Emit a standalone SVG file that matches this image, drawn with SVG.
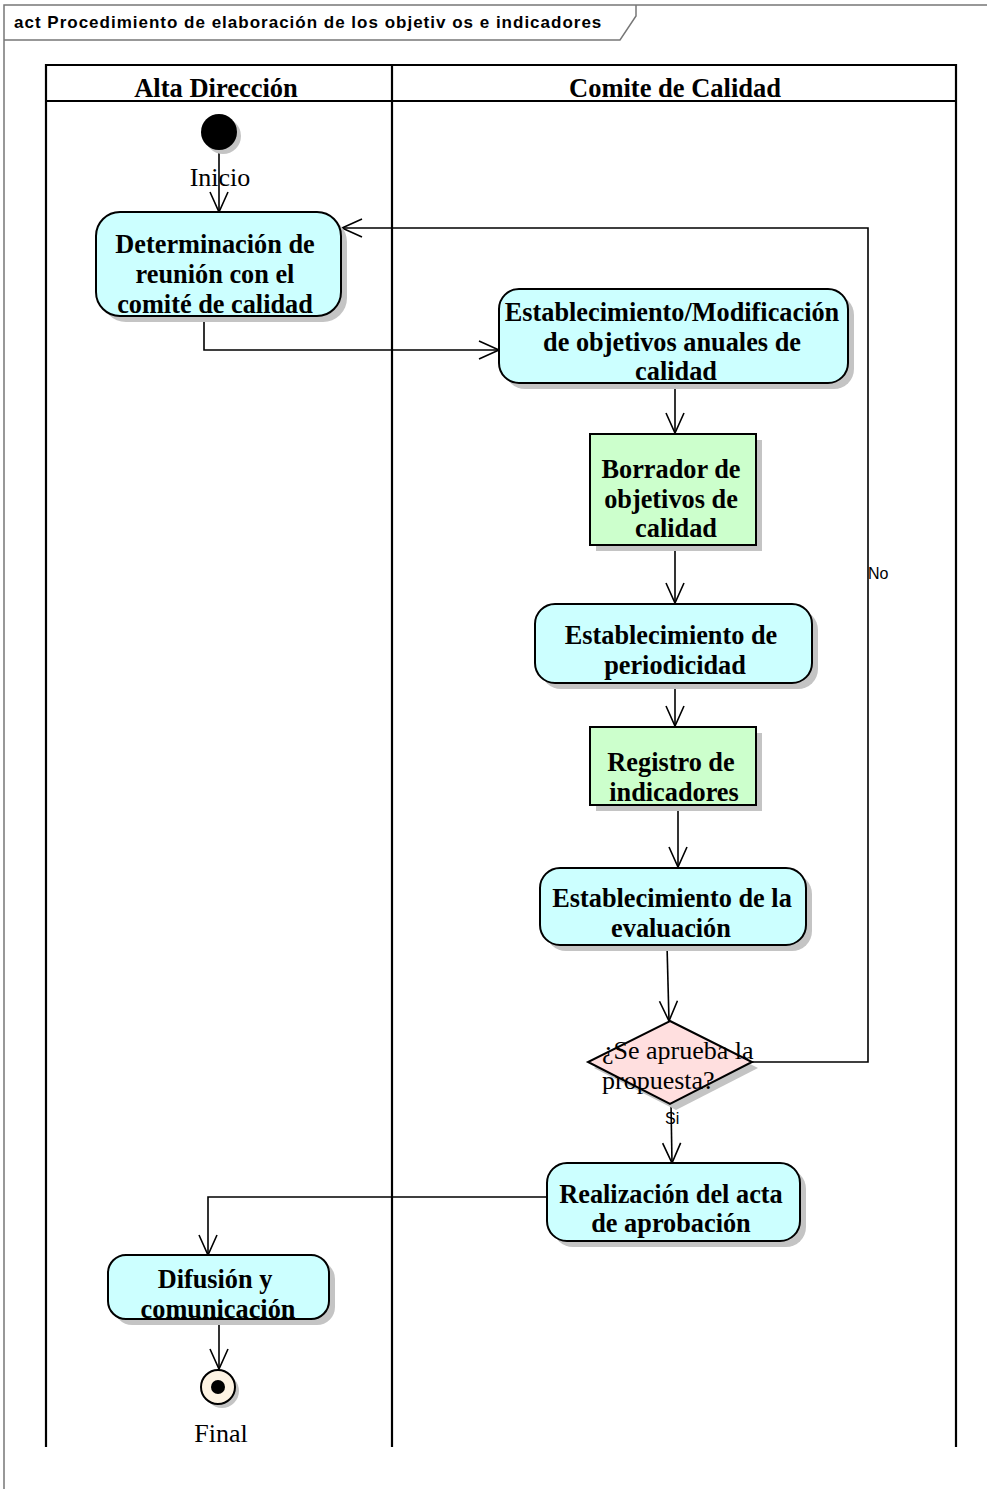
<svg xmlns="http://www.w3.org/2000/svg" width="987" height="1489" viewBox="0 0 987 1489">
  <defs>
    <marker id="open" viewBox="0 0 24 20" refX="22" refY="10" markerWidth="24" markerHeight="20" markerUnits="userSpaceOnUse" orient="auto">
      <path d="M2,1 L22,10 L2,19" fill="none" stroke="#000" stroke-width="1.6"/>
    </marker>
  </defs>
  <style>
    .frame { fill: none; stroke: #777; stroke-width: 1.5; }
    .title { font-family: "Liberation Sans", Arial, sans-serif; font-weight: bold; font-size: 17px; letter-spacing: 1px; fill: #000; }
    .lane { fill: none; stroke: #000; stroke-width: 2.2; }
    .lanehead { font-family: "Liberation Serif", "Times New Roman", serif; font-weight: bold; font-size: 26.5px; text-anchor: middle; fill: #000; }
    .shadow { fill: #c4c4c4; stroke: none; }
    .act { fill: #ccffff; stroke: #000; stroke-width: 2; }
    .obj { fill: #ccffcc; stroke: #000; stroke-width: 2; }
    .dec { fill: #ffdfdf; stroke: #000; stroke-width: 2; }
    .lbl { font-family: "Liberation Serif", "Times New Roman", serif; font-weight: bold; font-size: 26.3px; text-anchor: middle; fill: #000; }
    .plain { font-family: "Liberation Serif", "Times New Roman", serif; font-size: 26px; fill: #000; }
    .guard { font-family: "Liberation Sans", Arial, sans-serif; font-size: 16px; fill: #000; }
    .edge { fill: none; stroke: #000; stroke-width: 1.6; marker-end: url(#open); }
  </style>

  <rect width="987" height="1489" fill="#fff"/>

  <!-- diagram frame with name tab -->
  <g id="frame">
    <path class="frame" d="M4,1489 V5 H990"/>
    <path class="frame" d="M4,40 H620 L636,16 V5"/>
    <text class="title" x="14" y="28">act Procedimiento de elaboración de los objetiv os e indicadores</text>
  </g>

  <!-- swimlanes -->
  <g id="lanes">
    <path class="lane" d="M46,1447 V65 H956 V1447"/>
    <path class="lane" d="M46,101 H956"/>
    <path class="lane" d="M392,65 V1447"/>
    <text class="lanehead" x="216" y="97">Alta Dirección</text>
    <text class="lanehead" x="675" y="97">Comite de Calidad</text>
  </g>

  <!-- connectors -->
  <g id="connectors">
    <path class="edge" d="M219,150 V212"/>
    <path class="edge" d="M204,316 V350 H499"/>
    <path class="edge" d="M675,383 V433"/>
    <path class="edge" d="M675,545 V603"/>
    <path class="edge" d="M675,683 V726"/>
    <path class="edge" d="M678,805 V867"/>
    <path class="edge" d="M667,945 L669,1021"/>
    <path class="edge" d="M752,1062 H868 V228 H342"/>
    <path class="edge" d="M671,1104 L672,1163"/>
    <path class="edge" d="M547,1197 H208 V1255"/>
    <path class="edge" d="M219,1319 V1369"/>
    <text class="guard" x="868" y="579">No</text>
    <text class="guard" x="665" y="1124">Si</text>
  </g>

  <g id="inicio">
    <circle class="shadow" cx="223" cy="136" r="18"/>
    <circle cx="219" cy="132" r="18" fill="#000"/>
    <text class="plain" x="220" y="186" text-anchor="middle">Inicio</text>
  </g>

  <g id="determinacion">
    <rect class="shadow" x="102" y="218" width="245" height="104" rx="24"/>
    <rect class="act" x="96" y="212" width="245" height="104" rx="24"/>
    <text class="lbl" x="215" y="253">Determinación de</text>
    <text class="lbl" x="215" y="283">reunión con el</text>
    <text class="lbl" x="215" y="313">comité de calidad</text>
  </g>

  <g id="establecimiento-objetivos">
    <rect class="shadow" x="505" y="295" width="349" height="94" rx="20"/>
    <rect class="act" x="499" y="289" width="349" height="94" rx="20"/>
    <text class="lbl" x="672" y="321">Establecimiento/Modificación</text>
    <text class="lbl" x="672" y="351">de objetivos anuales de</text>
    <text class="lbl" x="676" y="380">calidad</text>
  </g>

  <g id="borrador">
    <rect class="shadow" x="596" y="440" width="166" height="111"/>
    <rect class="obj" x="590" y="434" width="166" height="111"/>
    <text class="lbl" x="671" y="478">Borrador de</text>
    <text class="lbl" x="671" y="508">objetivos de</text>
    <text class="lbl" x="676" y="537">calidad</text>
  </g>

  <g id="periodicidad">
    <rect class="shadow" x="541" y="610" width="277" height="79" rx="20"/>
    <rect class="act" x="535" y="604" width="277" height="79" rx="20"/>
    <text class="lbl" x="671" y="644">Establecimiento de</text>
    <text class="lbl" x="675" y="674">periodicidad</text>
  </g>

  <g id="registro">
    <rect class="shadow" x="596" y="733" width="166" height="78"/>
    <rect class="obj" x="590" y="727" width="166" height="78"/>
    <text class="lbl" x="671" y="771">Registro de</text>
    <text class="lbl" x="674" y="801">indicadores</text>
  </g>

  <g id="evaluacion">
    <rect class="shadow" x="546" y="874" width="266" height="77" rx="20"/>
    <rect class="act" x="540" y="868" width="266" height="77" rx="20"/>
    <text class="lbl" x="672" y="907">Establecimiento de la</text>
    <text class="lbl" x="671" y="937">evaluación</text>
  </g>

  <g id="decision">
    <polygon class="shadow" points="676,1027 758,1068 676,1110 594,1068"/>
    <polygon class="dec" points="670,1021 752,1062 670,1104 588,1062"/>
    <text class="plain" x="602" y="1059">¿Se aprueba la</text>
    <text class="plain" x="602" y="1089">propuesta?</text>
  </g>

  <g id="acta">
    <rect class="shadow" x="553" y="1169" width="253" height="78" rx="20"/>
    <rect class="act" x="547" y="1163" width="253" height="78" rx="20"/>
    <text class="lbl" x="671" y="1203">Realización del acta</text>
    <text class="lbl" x="671" y="1232">de aprobación</text>
  </g>

  <g id="difusion">
    <rect class="shadow" x="114" y="1261" width="221" height="64" rx="18"/>
    <rect class="act" x="108" y="1255" width="221" height="64" rx="18"/>
    <text class="lbl" x="215" y="1288">Difusión y</text>
    <text class="lbl" x="218" y="1318">comunicación</text>
  </g>

  <g id="final">
    <circle class="shadow" cx="222" cy="1391" r="17"/>
    <circle cx="218" cy="1387" r="17" fill="#fdf3e3" stroke="#000" stroke-width="2"/>
    <circle cx="218" cy="1387" r="7" fill="#000"/>
    <text class="plain" x="221" y="1442" text-anchor="middle">Final</text>
  </g>
</svg>
